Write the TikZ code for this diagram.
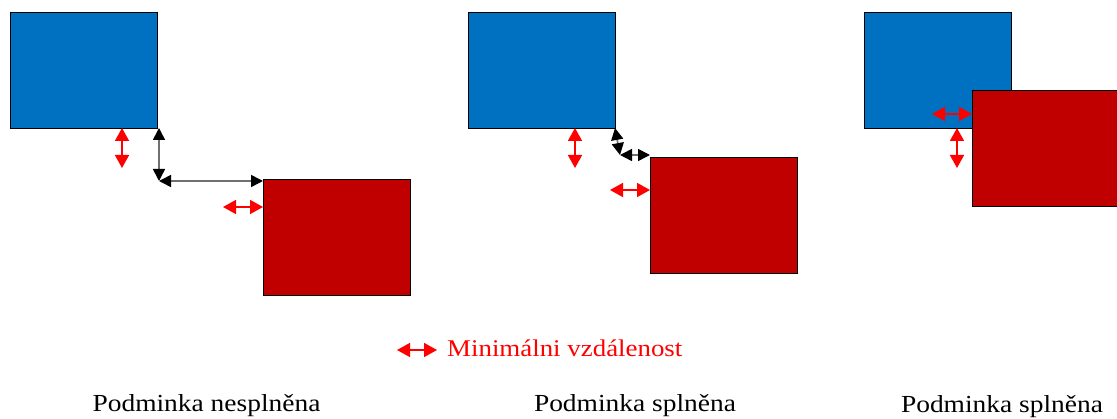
\documentclass[tikz,border=0pt]{standalone}
\usepackage{fontspec}
\setmainfont{Liberation Serif}
\newfontfamily\capfont[FakeStretch=1.12]{Liberation Serif}
\usetikzlibrary{arrows.meta}
\definecolor{boxblue}{HTML}{0070C0}
\definecolor{boxred}{HTML}{C00000}
\definecolor{shaft}{HTML}{707070}
\begin{document}
\begin{tikzpicture}[x=1pt,y=-1pt,
  blk/.style={draw=black, line width=0.8pt, inner sep=0pt, outer sep=0pt, anchor=north west},
  bluebox/.style={blk, fill=boxblue, minimum width=147pt, minimum height=116pt},
  redbox/.style={blk, fill=boxred, minimum width=147pt, minimum height=116pt},
  gap/.style={draw=red, line width=1.6pt,
    {Triangle[width=14pt,length=13pt]}-{Triangle[width=14pt,length=13pt]}},
  dist/.style={draw=shaft, line width=1.6pt,
    {Triangle[width=12pt,length=12pt,color=black]}-{Triangle[width=12pt,length=12pt,color=black]}},
  caption/.style={font=\capfont\fontsize{24.5}{28}\selectfont, inner sep=0pt, anchor=base},
  legend/.style={font=\capfont\fontsize{24}{28}\selectfont, text=red, inner sep=0pt, anchor=base west}
]
\fill[white] (0,0) rectangle (1117,419);
\useasboundingbox (0,0) rectangle (1117,419);

% left pair: too close
\node[bluebox] (b1) at (10,12) {};
\node[redbox]  (r1) at (263,179) {};
\coordinate (c1) at (159,181);
\draw[dist] (b1.south east -| c1) -- (c1);
\draw[dist] (c1) -- (c1 -| r1.west);
\coordinate (g1) at (122,168);
\draw[gap] (g1 |- b1.south) -- (g1);
\coordinate (g2) at (223,207);
\draw[gap] (g2) -- (g2 -| r1.west);

% middle pair: far enough
\node[bluebox] (b2) at (468,12) {};
\node[redbox]  (r2) at (650,157) {};
\coordinate (c2) at (620,155);
\draw[dist] (b2.south east) -- (c2);
\draw[dist] (c2) -- (c2 -| r2.west);
\coordinate (g3) at (575,168);
\draw[gap] (g3 |- b2.south) -- (g3);
\coordinate (g4) at (610,190);
\draw[gap] (g4) -- (g4 -| r2.west);

% right pair: overlapping
\node[bluebox] (b3) at (864,12) {};
\node[redbox]  (r3) at (972,90) {};
\coordinate (g5) at (932,114);
\draw[gap] (g5) -- (g5 -| r3.west);
\coordinate (g6) at (957,168);
\draw[gap] (g6 |- b3.south) -- (g6);

% legend
\coordinate (l1) at (397,350);
\coordinate (l2) at (437,350);
\draw[gap] (l1) -- (l2);
\node[legend] (lt) at (447,357) {Minimálni vzdálenost};

% captions
\node[caption] (t1) at (206.5,412) {Podminka nesplněna};
\node[caption] (t2) at (635,412) {Podminka splněna};
\node[caption] (t3) at (1002,413) {Podminka splněna};
\end{tikzpicture}
\end{document}
